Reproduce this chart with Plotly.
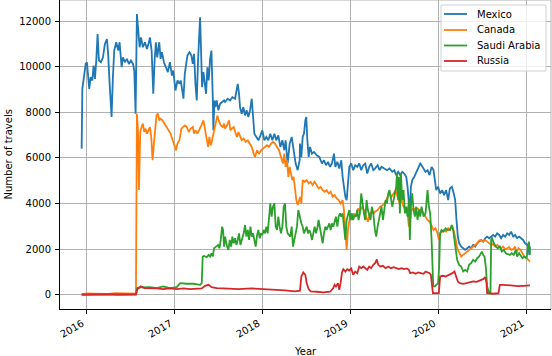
import pandas as pd
import plotly.graph_objects as go

# travels per country (decimal years, counts)
series_names = ["Mexico", "Canada", "Saudi Arabia", "Russia"]
series_colors = ["#1f77b4", "#ff7f0e", "#2ca02c", "#d62728"]

mexico_t = [2015.947, 2015.955, 2015.978, 2015.993, 2016.008, 2016.023, 2016.034, 2016.05, 2016.069, 2016.084,
            2016.099, 2016.114, 2016.129, 2016.144, 2016.167, 2016.19, 2016.212, 2016.235, 2016.25, 2016.266,
            2016.281, 2016.288, 2016.303, 2016.318, 2016.341, 2016.364, 2016.379, 2016.402, 2016.417, 2016.44,
            2016.462, 2016.485, 2016.508, 2016.531, 2016.546, 2016.561, 2016.576, 2016.591, 2016.607, 2016.622,
            2016.644, 2016.667, 2016.69, 2016.712,
            2016.724, 2016.743, 2016.762, 2016.777, 2016.792, 2016.807, 2016.83, 2016.845, 2016.86, 2016.883,
            2016.906, 2016.928, 2016.951, 2016.974, 2016.989, 2017.012, 2017.035, 2017.057, 2017.072, 2017.088,
            2017.103, 2017.118, 2017.133, 2017.148, 2017.171, 2017.194, 2017.209, 2017.224, 2017.239, 2017.254,
            2017.269, 2017.284, 2017.292, 2017.303, 2017.315, 2017.33, 2017.345, 2017.36, 2017.375, 2017.39,
            2017.406, 2017.421, 2017.436, 2017.443, 2017.455, 2017.466, 2017.481, 2017.5, 2017.519, 2017.542,
            2017.565,
            2017.576, 2017.606, 2017.633, 2017.659, 2017.69, 2017.709, 2017.72, 2017.735, 2017.746, 2017.765,
            2017.784, 2017.803, 2017.822, 2017.841, 2017.86, 2017.879, 2017.894, 2017.909, 2017.932, 2017.955,
            2017.978, 2018.0, 2018.023, 2018.046, 2018.068, 2018.091, 2018.114, 2018.137, 2018.159, 2018.182,
            2018.205, 2018.228, 2018.25, 2018.265, 2018.288, 2018.311, 2018.334, 2018.356, 2018.379, 2018.402,
            2018.425,
            2018.428, 2018.444, 2018.459, 2018.474, 2018.489, 2018.5, 2018.512, 2018.527, 2018.542, 2018.565,
            2018.588, 2018.618, 2018.648, 2018.678, 2018.701, 2018.724, 2018.747, 2018.769, 2018.792, 2018.815,
            2018.83, 2018.853, 2018.875, 2018.898, 2018.913, 2018.928, 2018.944, 2018.959, 2018.974, 2018.989,
            2019.012, 2019.034, 2019.057, 2019.08, 2019.103, 2019.125, 2019.148, 2019.171, 2019.194, 2019.216,
            2019.239, 2019.262,
            2019.281, 2019.311, 2019.334, 2019.356, 2019.387, 2019.417, 2019.447, 2019.478, 2019.5, 2019.523,
            2019.546, 2019.568, 2019.591, 2019.614, 2019.637, 2019.652, 2019.667, 2019.675, 2019.69, 2019.705,
            2019.728, 2019.75, 2019.773, 2019.796, 2019.811, 2019.834, 2019.856, 2019.879, 2019.902, 2019.925,
            2019.947, 2019.962, 2019.978, 2020.0, 2020.023, 2020.046, 2020.068, 2020.091, 2020.114,
            2020.133, 2020.156, 2020.178, 2020.194, 2020.209, 2020.224, 2020.239, 2020.262, 2020.285, 2020.307,
            2020.33, 2020.352, 2020.375, 2020.398, 2020.421, 2020.444, 2020.466, 2020.489, 2020.512, 2020.535,
            2020.557, 2020.58, 2020.603, 2020.625, 2020.648, 2020.671, 2020.694, 2020.716, 2020.739, 2020.762,
            2020.785, 2020.807, 2020.83, 2020.853, 2020.875, 2020.898, 2020.921, 2020.944, 2020.966, 2020.989,
            2021.012, 2021.027, 2021.034, 2021.042]
mexico_v = [6410, 9030, 9685, 10120, 10195, 9250, 9030, 9540, 9395, 10050,
            9465, 10270, 11430, 10270, 10195, 10410, 10995, 11210, 10485, 9250,
            7940, 7795, 9540, 10705, 11070, 10705, 11070, 9975, 10410, 10195,
            10340, 10120, 10270, 10120, 9830, 7940, 12305, 11430, 10850, 11285,
            10850, 11070, 10775, 11070,
            11285, 10705, 8812, 10270, 11070, 10410, 11070, 10340, 10630, 10195,
            9975, 9760, 10195, 9610, 9830, 8957, 9395, 9250, 9395, 8957,
            8595, 9685, 10120, 10485, 10630, 10485, 10120, 10560, 9250, 8520,
            10270, 12013, 12160, 10705, 9100, 9760, 9250, 8812, 9975, 9395,
            10340, 10705, 8667, 7212, 8520, 8230, 8520, 8085, 8375, 8450,
            8520,
            8450, 8595, 8520, 8667, 8595, 8957, 9250, 8812, 8230, 7940,
            8230, 7866, 8085, 7795, 8085, 8595, 7648, 7066, 6920, 6775,
            6993, 7212, 6775, 6920, 6775, 7066, 6775, 7066, 6775, 6993,
            6484, 6775, 6340, 6775, 5757, 6630, 6920, 6340, 5757, 5466,
            5902,
            6630, 6048, 6920, 7066, 7648, 7795, 6775, 6048, 6484, 6193,
            6266, 6120, 6048, 5757, 5902, 5684, 5830, 5612, 5757, 6193,
            5612, 5830, 5538, 5902, 5175, 4738, 4300, 4156, 5030, 5612,
            5757, 5466, 5684, 5612, 5757, 5466, 5684, 5757, 5320, 5612,
            5757, 5466,
            5538, 5684, 5466, 5612, 5538, 5466, 5538, 5393, 5466, 5248,
            5393, 5248, 5393, 5320, 5175, 4738, 4010, 3574, 4738, 5030,
            5175, 5393, 5612, 5757, 5684, 5538, 5393, 5466, 5248, 5612,
            5466, 5030, 4593, 4738, 4447, 4593, 4375, 4593, 4156,
            4666, 4738, 4447, 4156, 3283, 2556, 2264, 2119, 2046, 1974,
            2046, 2119, 2046, 2192, 2119, 2264, 2337, 2410, 2337, 2483,
            2556, 2483, 2556, 2628, 2556, 2700, 2628, 2483, 2628, 2556,
            2700, 2628, 2774, 2556, 2628, 2483, 2556, 2483, 2410, 2264,
            2192, 2046, 1755, 2119]

canada_t = [2015.947, 2016.02, 2016.099, 2016.18, 2016.25, 2016.33, 2016.402, 2016.48, 2016.546, 2016.565,
            2016.576, 2016.588, 2016.599, 2016.614, 2016.629, 2016.644, 2016.659, 2016.675, 2016.69, 2016.705,
            2016.724, 2016.739, 2016.754, 2016.769, 2016.784, 2016.799, 2016.815, 2016.83, 2016.845, 2016.868,
            2016.89, 2016.913, 2016.936, 2016.959, 2016.982, 2017.004, 2017.019, 2017.035, 2017.057, 2017.08,
            2017.095, 2017.118, 2017.141, 2017.163, 2017.186, 2017.209, 2017.224, 2017.239, 2017.262, 2017.284,
            2017.307, 2017.33, 2017.345, 2017.368, 2017.383, 2017.398, 2017.413, 2017.428, 2017.443, 2017.466,
            2017.489, 2017.504, 2017.527, 2017.55, 2017.565,
            2017.576, 2017.599, 2017.621, 2017.637, 2017.652, 2017.675, 2017.697, 2017.712, 2017.728, 2017.746,
            2017.765, 2017.788, 2017.811, 2017.834, 2017.856, 2017.879, 2017.902, 2017.917, 2017.94, 2017.962,
            2017.985, 2018.008, 2018.031, 2018.053, 2018.076, 2018.099, 2018.121, 2018.144, 2018.167, 2018.19,
            2018.212, 2018.235, 2018.25, 2018.265, 2018.281, 2018.296, 2018.311, 2018.326, 2018.341, 2018.356,
            2018.371, 2018.387, 2018.402, 2018.417, 2018.432, 2018.444,
            2018.459, 2018.481, 2018.504, 2018.527, 2018.549, 2018.572, 2018.595, 2018.618, 2018.64, 2018.663,
            2018.686, 2018.709, 2018.731, 2018.754, 2018.777, 2018.8, 2018.822, 2018.845, 2018.868, 2018.89,
            2018.913, 2018.928, 2018.944, 2018.959, 2018.974, 2018.989, 2019.004, 2019.019, 2019.042, 2019.065,
            2019.087, 2019.11, 2019.133, 2019.156, 2019.178, 2019.201, 2019.224, 2019.246, 2019.269,
            2019.281, 2019.311, 2019.341, 2019.372, 2019.402, 2019.425, 2019.447, 2019.47, 2019.493, 2019.516,
            2019.538, 2019.561, 2019.584, 2019.606, 2019.629, 2019.652, 2019.667, 2019.682, 2019.697, 2019.72,
            2019.743, 2019.765, 2019.788, 2019.811, 2019.834, 2019.856, 2019.879, 2019.902, 2019.925, 2019.947,
            2019.97, 2019.993, 2020.008, 2020.023, 2020.046, 2020.068, 2020.091, 2020.114,
            2020.133, 2020.156, 2020.171, 2020.186, 2020.201, 2020.216, 2020.239, 2020.262, 2020.285, 2020.307,
            2020.33, 2020.352, 2020.375, 2020.398, 2020.421, 2020.444, 2020.466, 2020.489, 2020.512, 2020.535,
            2020.557, 2020.58, 2020.603, 2020.625, 2020.648, 2020.671, 2020.694, 2020.716, 2020.739, 2020.762,
            2020.785, 2020.807, 2020.83, 2020.853, 2020.875, 2020.89, 2020.913, 2020.936, 2020.958, 2020.981,
            2021.004, 2021.027, 2021.042]
canada_v = [40, 70, 60, 40, 50, 80, 70, 40, 60, 60,
            7940, 7200, 4600, 7140, 7357, 7503, 7140, 7285, 7066, 7212,
            7357, 6920, 5902, 6630, 7357, 7866, 7940, 7648, 7720, 7648,
            7503, 7357, 7212, 7066, 6775, 6484, 6340, 6630, 6775, 7285,
            7357, 7430, 7357, 7140, 7285, 7357, 7066, 7212, 7066, 7285,
            7430, 7648, 7357, 6775, 6484, 6920, 6557, 6775, 7066, 7503,
            7866, 7648, 7430, 7357, 7503,
            7285, 7430, 7648, 7212, 7285, 7357, 7066, 6920, 7140, 6920,
            6775, 6848, 6702, 6775, 6630, 6484, 6193, 6048, 6340, 6193,
            6340, 6412, 6484, 6557, 6484, 6630, 6702, 6630, 6484, 6340,
            6048, 5757, 6193, 5612, 5902, 5175, 5612, 5320, 5030, 5175,
            4593, 4156, 3938, 4156, 4300, 4010,
            5030, 4957, 5030, 4884, 4957, 4811, 4957, 4811, 4666, 4738,
            4593, 4520, 4593, 4447, 4520, 4300, 4375, 4230, 4156, 4010,
            4156, 3720, 2992, 1974, 2847, 3138, 3574, 3283, 3574, 3430,
            3793, 3647, 3865, 3720, 3430, 3210, 3574, 3647, 3574,
            3647, 3720, 3865, 3938, 4083, 4300, 4447, 4300, 4447, 4593,
            4300, 4010, 4156, 3865, 3720, 3574, 2992, 3430, 3720, 3793,
            3720, 3793, 3720, 3720, 3574, 3430, 3283, 3210, 2992, 2847,
            2920, 2700, 2410, 2700, 2774, 2847, 2774, 2920,
            2847, 2992, 2920, 2700, 2410, 2046, 1828, 1683, 1755, 1828,
            1901, 1974, 2046, 2119, 2192, 2264, 2380, 2410, 2337, 2410,
            2337, 2264, 2192, 2235, 2119, 2192, 2119, 2046, 2119, 2003,
            2046, 2090, 1974, 2003, 2119, 1828, 2046, 1974, 1828, 1683,
            1610, 1538, 1464]

saudi_t = [2015.947, 2016.05, 2016.15, 2016.25, 2016.35, 2016.45, 2016.565, 2016.58, 2016.62, 2016.724,
           2016.8, 2016.875, 2016.951, 2017.027, 2017.065, 2017.14, 2017.216, 2017.292, 2017.311, 2017.322,
           2017.337, 2017.368, 2017.39, 2017.406, 2017.421, 2017.436, 2017.451, 2017.474, 2017.497, 2017.512,
           2017.527, 2017.542, 2017.553, 2017.565,
           2017.576, 2017.599, 2017.614, 2017.629, 2017.644, 2017.659, 2017.674, 2017.69, 2017.705, 2017.72,
           2017.735, 2017.75, 2017.765, 2017.788, 2017.803, 2017.818, 2017.834, 2017.849, 2017.864, 2017.879,
           2017.894, 2017.909, 2017.924, 2017.94, 2017.955, 2017.97, 2017.985, 2018.0, 2018.015, 2018.031,
           2018.046, 2018.061, 2018.076, 2018.091, 2018.106, 2018.121, 2018.137, 2018.152, 2018.167, 2018.182,
           2018.197, 2018.212, 2018.228, 2018.243, 2018.258, 2018.273, 2018.288, 2018.303, 2018.318, 2018.334,
           2018.349, 2018.364, 2018.379, 2018.394, 2018.409, 2018.425,
           2018.444, 2018.459, 2018.474, 2018.489, 2018.504, 2018.519, 2018.534, 2018.549, 2018.565, 2018.58,
           2018.595, 2018.61, 2018.625, 2018.64, 2018.656, 2018.671, 2018.686, 2018.701, 2018.716, 2018.731,
           2018.747, 2018.762, 2018.777, 2018.792, 2018.807, 2018.822, 2018.837, 2018.853, 2018.868, 2018.883,
           2018.898, 2018.913, 2018.928, 2018.944, 2018.959, 2018.974, 2018.989, 2019.004, 2019.019, 2019.034,
           2019.05, 2019.065, 2019.08, 2019.095, 2019.11, 2019.125, 2019.141, 2019.156, 2019.171, 2019.186,
           2019.201, 2019.216, 2019.231, 2019.246, 2019.262,
           2019.281, 2019.296, 2019.311, 2019.326, 2019.341, 2019.356, 2019.372, 2019.387, 2019.402, 2019.417,
           2019.432, 2019.447, 2019.462, 2019.478, 2019.493, 2019.508, 2019.523, 2019.531, 2019.546, 2019.553,
           2019.565, 2019.576, 2019.591, 2019.606, 2019.622, 2019.637, 2019.652, 2019.667, 2019.678, 2019.69,
           2019.705, 2019.72, 2019.735, 2019.75, 2019.765, 2019.781, 2019.796, 2019.811, 2019.834, 2019.856,
           2019.871, 2019.879, 2019.894, 2019.909, 2019.925, 2019.932, 2019.944, 2019.962, 2019.985, 2020.0,
           2020.012, 2020.023, 2020.038, 2020.061, 2020.084, 2020.106,
           2020.133, 2020.156, 2020.171, 2020.186, 2020.201, 2020.216, 2020.239, 2020.262, 2020.285, 2020.307,
           2020.33, 2020.352, 2020.375, 2020.398, 2020.421, 2020.444, 2020.466, 2020.481, 2020.497, 2020.512,
           2020.527, 2020.542, 2020.557, 2020.58, 2020.595, 2020.603, 2020.61, 2020.633, 2020.656, 2020.678,
           2020.701, 2020.724, 2020.747, 2020.769, 2020.792, 2020.815, 2020.837, 2020.86, 2020.883, 2020.898,
           2020.921, 2020.944, 2020.959, 2020.981, 2021.004, 2021.019, 2021.03, 2021.042]
saudi_v = [0, 20, 10, 30, 10, 20, 20, 300, 330, 344,
           300, 373, 300, 344, 518, 490, 490, 446, 518, 1683,
           1712, 1654, 1755, 1683, 1828, 1683, 2046, 2119, 2192, 2046,
           2410, 2992, 2847, 2119,
           2556, 2119, 1974, 2410, 2119, 2556, 2264, 2483, 2192, 2410,
           2700, 2192, 2410, 2700, 3065, 2556, 2847, 2410, 2992, 2556,
           2700, 2410, 2119, 2628, 2847, 2483, 2700, 2628, 2847, 2700,
           2992, 2700, 3283, 4010, 3430, 3865, 4010, 2992, 2847, 3430,
           2992, 2700, 2992, 3865, 4010, 2992, 2700, 2628, 2556, 2992,
           2119, 2410, 2700, 2992, 3720, 3430,
           3138, 2992, 2700, 2847, 2992, 2700, 2847, 2700, 2410, 2700,
           2992, 2700, 2920, 3283, 2847, 2556, 2264, 2700, 2992, 2847,
           2992, 3138, 2847, 3138, 2992, 3283, 3430, 2992, 3430, 3574,
           3430, 3574, 2992, 2410, 3283, 3574, 3720, 3283, 3574, 3283,
           3500, 3430, 3720, 3283, 3574, 4447, 3865, 3574, 3283, 4156,
           3720, 3430, 3283, 3865, 3574,
           2847, 2556, 2992, 3283, 3574, 3865, 3283, 3720, 4156, 4010,
           4447, 4593, 4156, 3865, 4156, 4447, 4738, 5320, 4156, 5175,
           3574, 5320, 4156, 4593, 3574, 3865, 3430, 4156, 2410, 3865,
           4447, 3720, 3430, 3865, 3283, 3720, 3430, 3865, 3430, 3574,
           4447, 4593, 3865, 3574, 2410, 1246, 373, 373, 446, 518,
           1246, 2700, 2847, 2774, 2920, 2847,
           2847, 3065, 2847, 2410, 1828, 1538, 1319, 1246, 1028, 1100,
           1028, 1319, 1392, 1538, 1464, 1610, 1683, 1828, 1901, 1755,
           1683, 1246, 373, 82, 82, 2410, 2527, 2264, 2119, 2046,
           2119, 1901, 1974, 1828, 1800, 1755, 1828, 1755, 1974, 1683,
           1828, 1683, 1610, 1683, 1610, 2119, 2337, 1755]

russia_t = [2015.947, 2016.1, 2016.25, 2016.4, 2016.565, 2016.58, 2016.62, 2016.66, 2016.724, 2016.8,
            2016.875, 2016.951, 2017.027, 2017.103, 2017.178, 2017.254, 2017.311, 2017.349, 2017.387, 2017.424,
            2017.481, 2017.557, 2017.65, 2017.728, 2017.879, 2018.031, 2018.144, 2018.258, 2018.371, 2018.428,
            2018.444, 2018.466, 2018.489, 2018.504, 2018.527, 2018.549, 2018.618, 2018.693, 2018.769, 2018.807,
            2018.822, 2018.837, 2018.86, 2018.875, 2018.89, 2018.906, 2018.921, 2018.944, 2018.966, 2018.989,
            2019.012, 2019.034, 2019.057, 2019.08, 2019.103, 2019.125, 2019.148, 2019.171, 2019.194, 2019.216,
            2019.239, 2019.262, 2019.284, 2019.303, 2019.319, 2019.341, 2019.372, 2019.402, 2019.432, 2019.462,
            2019.493, 2019.523, 2019.553, 2019.584, 2019.614, 2019.644, 2019.667, 2019.682, 2019.712, 2019.743,
            2019.773, 2019.803, 2019.834, 2019.856, 2019.879, 2019.902, 2019.917, 2019.932, 2019.94, 2019.985,
            2020.008, 2020.023, 2020.053, 2020.084, 2020.114, 2020.133, 2020.163, 2020.186, 2020.201, 2020.224,
            2020.247, 2020.285, 2020.322, 2020.36, 2020.398, 2020.436, 2020.474, 2020.512, 2020.535, 2020.55,
            2020.557, 2020.625, 2020.686, 2020.701, 2020.739, 2020.796, 2020.853, 2020.91, 2020.966, 2021.023,
            2021.042]
russia_v = [20, 30, 20, 40, 30, 250, 380, 300, 300, 285,
            257, 285, 257, 285, 257, 285, 285, 402, 446, 344,
            300, 285, 257, 257, 285, 257, 228, 200, 155, 184,
            810, 985, 882, 518, 257, 155, 140, 111, 140, 300,
            446, 373, 518, 228, 518, 985, 1130, 1028, 1130, 1072,
            1160, 882, 1028, 955, 1246, 1173, 1246, 1173, 1100, 1246,
            1173, 1319, 1392, 1560, 1319, 1246, 1275, 1173, 1246, 1173,
            1217, 1173, 1130, 1173, 1130, 1160, 1100, 955, 985, 926,
            985, 955, 926, 1028, 985, 955, 882, 373, 82, 82,
            82, 810, 840, 810, 868, 882, 955, 1028, 810, 591,
            518, 490, 518, 547, 591, 576, 635, 693, 780, 518,
            82, 53, 82, 446, 446, 417, 402, 388, 402, 431,
            417]

year_ticks = ["2016", "2017", "2018", "2019", "2020", "2021"]


def to_date(y):
    yr = int(y)
    return pd.Timestamp(f"{yr}-01-01") + pd.Timedelta(days=(y - yr) * 365.25)


# plot box in pixels (matplotlib-like axes)
W, H = 552, 356
L, R, T, B = 60, 551, 0, 309


def px(x):
    return (x - L) / (R - L)


def py(y):
    return 1 - (y - T) / (B - T)


fig = go.Figure()
all_t = [mexico_t, canada_t, saudi_t, russia_t]
all_v = [mexico_v, canada_v, saudi_v, russia_v]
for name, col, t, v in zip(series_names, series_colors, all_t, all_v):
    fig.add_trace(go.Scatter(x=[to_date(a) for a in t], y=v, mode="lines", name=name,
                             line=dict(color=col, width=1.8), showlegend=False))

font = dict(family="DejaVu Sans", size=10, color="black")

fig.update_layout(
    width=W, height=H,
    margin=dict(l=L, r=W - R, t=T, b=H - B, autoexpand=False),
    paper_bgcolor="white", plot_bgcolor="white",
    font=font,
    xaxis=dict(type="date", range=[to_date(2015.701), to_date(2021.281)],
               tickvals=[pd.Timestamp(s + "-01-01") for s in year_ticks], ticktext=year_ticks,
               tickangle=-30, ticks="outside", ticklen=4, tickcolor="black", ticklabelshift=-4,
               showgrid=True, gridcolor="#b0b0b0", gridwidth=0.8,
               showline=True, linecolor="black", linewidth=1, zeroline=False),
    yaxis=dict(range=[-615, 12920], tickvals=list(range(0, 12001, 2000)),
               ticktext=[str(v) for v in range(0, 12001, 2000)],
               ticks="outside", ticklen=4, tickcolor="black", ticklabelstandoff=2,
               showgrid=True, gridcolor="#b0b0b0", gridwidth=0.8,
               showline=True, linecolor="black", linewidth=1, zeroline=False),
)

# top / right frame in grey
fig.add_shape(type="line", xref="paper", yref="paper", x0=1, x1=1, y0=0, y1=1,
              line=dict(color="#b0b0b0", width=1), layer="below")
fig.add_shape(type="line", xref="paper", yref="paper", x0=0, x1=1, y0=1, y1=1,
              line=dict(color="#b0b0b0", width=1), layer="below")

# axis titles
fig.add_annotation(text="Year", xref="paper", yref="paper", x=0.5, y=py(351),
                   showarrow=False, font=font, yanchor="middle")
fig.add_annotation(text="Number of travels", xref="paper", yref="paper", x=px(8), y=0.5,
                   showarrow=False, font=font, textangle=-90, xanchor="center")

# legend box, drawn by hand to match the matplotlib layout
fig.add_shape(type="rect", xref="paper", yref="paper", x0=px(441), x1=px(546), y0=py(71), y1=py(5),
              line=dict(color="#d0d0d0", width=1), fillcolor="rgba(255,255,255,0.8)")
rows = [14, 30, 45.5, 61]
for name, col, yy in zip(series_names, series_colors, rows):
    fig.add_shape(type="line", xref="paper", yref="paper", x0=px(444), x1=px(467), y0=py(yy), y1=py(yy),
                  line=dict(color=col, width=1.8))
    fig.add_annotation(text=name, xref="paper", yref="paper", x=px(475), y=py(yy),
                       xanchor="left", yanchor="middle", showarrow=False, font=font)

# page body has an 8px default margin; drop it so the figure sits at the window corner
fig.write_html("out.html", config={"displayModeBar": False},
               post_script="document.body.style.margin='0';")
